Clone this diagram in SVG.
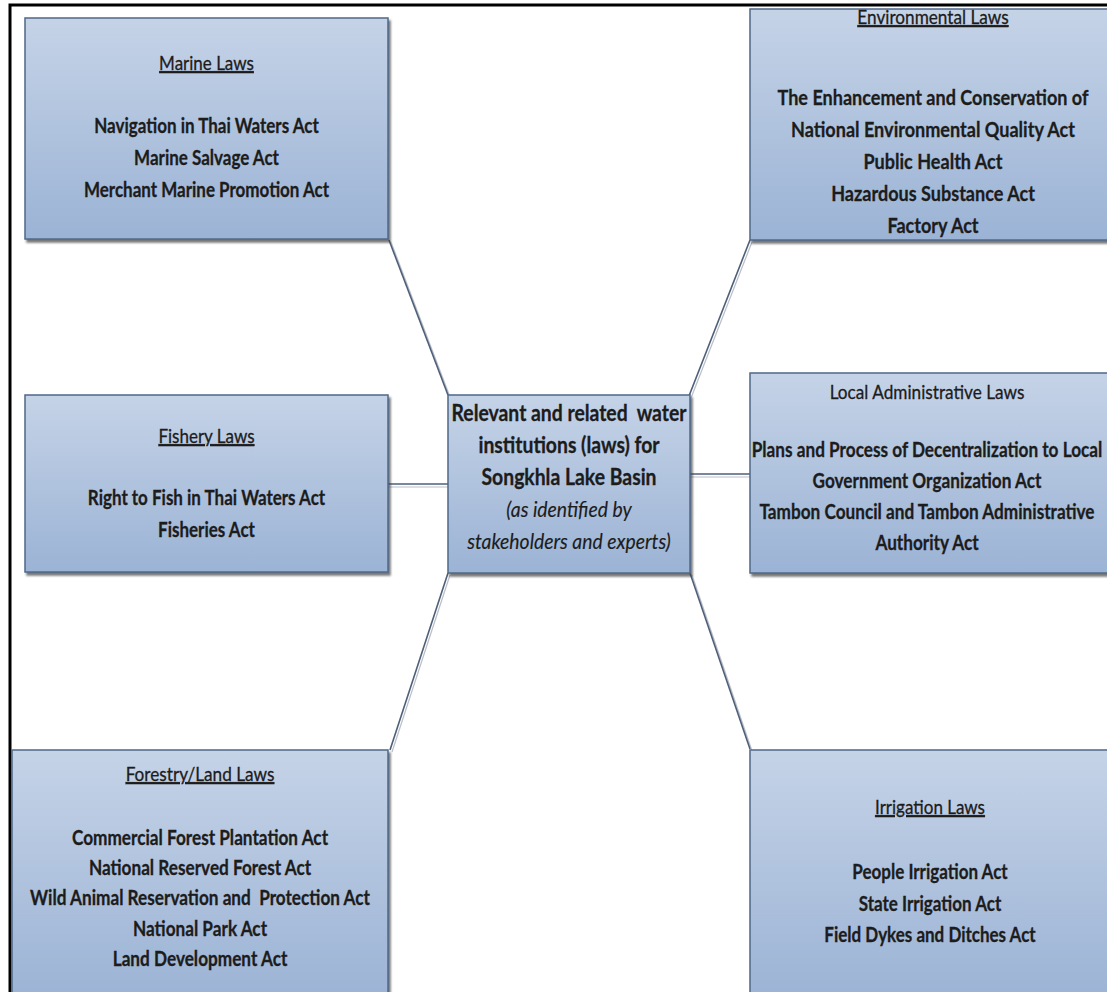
<svg xmlns="http://www.w3.org/2000/svg" width="1107" height="992" viewBox="0 0 1107 992">
  <defs>
    <linearGradient id="boxFill" x1="0" y1="0" x2="0" y2="1">
      <stop offset="0" stop-color="#c5d3e7"/>
      <stop offset="1" stop-color="#9bb3d5"/>
    </linearGradient>
    <filter id="boxShadow" x="-5%" y="-5%" width="110%" height="115%">
      <feDropShadow dx="2" dy="3" stdDeviation="1.2" flood-color="#3c3c3c" flood-opacity="0.7"/>
    </filter>
  </defs>
  <style>
    .box { fill: url(#boxFill); stroke: #4f6888; stroke-width: 1.5; filter: url(#boxShadow); }
    .frame { stroke: #000; stroke-width: 3; fill: none; }
    .link { stroke: #4e5f78; stroke-width: 1.6; fill: none; }
    .link-shade { stroke: #b9bec8; stroke-width: 1.2; fill: none; }
    text { font-family: Lato, "Liberation Sans", sans-serif; fill: #1c1c1c; stroke: #1c1c1c; stroke-width: 0.3; text-anchor: middle; font-size: 20px; }
    .body { font-weight: bold; }
    .title { font-weight: normal; }
    .ul { text-decoration: underline; }
    .env { font-size: 21px; }
    .hub { font-size: 22px; }
    .note { font-style: italic; font-weight: normal; stroke-width: 0.15; }
  </style>

  <rect width="1107" height="992" fill="#ffffff"/>
  <!-- outer frame (top and left edges) -->
  <path class="frame" d="M10 992 V5 H1107"/>

  <!-- connectors -->
  <g id="connectors">
    <line class="link-shade" x1="391" y1="242" x2="450" y2="397"/>
    <line class="link" x1="389" y1="240" x2="448" y2="395"/>
    <line class="link-shade" x1="691" y1="398" x2="752" y2="242"/>
    <line class="link" x1="689" y1="396" x2="750" y2="240"/>
    <line class="link-shade" x1="388" y1="487" x2="448" y2="487"/>
    <line class="link" x1="388" y1="484" x2="448" y2="484"/>
    <line class="link-shade" x1="690" y1="477" x2="750" y2="477"/>
    <line class="link" x1="690" y1="474" x2="750" y2="474"/>
    <line class="link-shade" x1="450" y1="575" x2="392" y2="752"/>
    <line class="link" x1="448" y1="573" x2="390" y2="750"/>
    <line class="link-shade" x1="692" y1="575" x2="752" y2="751"/>
    <line class="link" x1="690" y1="573" x2="750" y2="749"/>
  </g>

  <!-- Marine Laws -->
  <g id="marine">
    <rect class="box" x="25" y="18" width="363" height="221"/>
    <g transform="translate(206.5 0) scale(0.85 1)">
      <text class="title ul" x="0" y="70">Marine Laws</text>
      <text class="body" x="0" y="133">Navigation in Thai Waters Act</text>
      <text class="body" x="0" y="165">Marine Salvage Act</text>
      <text class="body" x="0" y="197">Merchant Marine Promotion Act</text>
    </g>
  </g>

  <!-- Environmental Laws -->
  <g id="environmental">
    <rect class="box" x="750" y="9" width="365" height="231"/>
    <g transform="translate(933 0) scale(0.86 1)">
      <text class="title ul" x="0" y="24">Environmental Laws</text>
      <text class="body env" x="0" y="105">The Enhancement and Conservation of</text>
      <text class="body env" x="0" y="137">National Environmental Quality Act</text>
      <text class="body env" x="0" y="169">Public Health Act</text>
      <text class="body env" x="0" y="201">Hazardous Substance Act</text>
      <text class="body env" x="0" y="233">Factory Act</text>
    </g>
  </g>

  <!-- Fishery Laws -->
  <g id="fishery">
    <rect class="box" x="25" y="395" width="363" height="177"/>
    <g transform="translate(206.5 0) scale(0.85 1)">
      <text class="title ul" x="0" y="443">Fishery Laws</text>
      <text class="body" x="0" y="505">Right to Fish in Thai Waters Act</text>
      <text class="body" x="0" y="537">Fisheries Act</text>
    </g>
  </g>

  <!-- central topic -->
  <g id="hub">
    <rect class="box" x="448" y="395" width="242" height="178"/>
    <g transform="translate(569 0) scale(0.88 1)">
      <text class="body hub" x="0" y="421" xml:space="preserve">Relevant and related  water</text>
      <text class="body hub" x="0" y="453">institutions (laws) for</text>
      <text class="body hub" x="0" y="485">Songkhla Lake Basin</text>
      <text class="hub note" x="0" y="517">(as identified by</text>
      <text class="hub note" x="0" y="549">stakeholders and experts)</text>
    </g>
  </g>

  <!-- Local Administrative Laws -->
  <g id="local">
    <rect class="box" x="750" y="373" width="365" height="200"/>
    <g transform="translate(927 0) scale(0.86 1)">
      <text class="title" x="0" y="399">Local Administrative Laws</text>
      <text class="body" x="0" y="457">Plans and Process of Decentralization to Local</text>
      <text class="body" x="0" y="488">Government Organization Act</text>
      <text class="body" x="0" y="519">Tambon Council and Tambon Administrative</text>
      <text class="body" x="0" y="550">Authority Act</text>
    </g>
  </g>

  <!-- Forestry/Land Laws -->
  <g id="forestry">
    <rect class="box" x="12" y="750" width="376" height="250"/>
    <g transform="translate(200 0) scale(0.86 1)">
      <text class="title ul" x="0" y="781">Forestry/Land Laws</text>
      <text class="body" x="0" y="845">Commercial Forest Plantation Act</text>
      <text class="body" x="0" y="875">National Reserved Forest Act</text>
      <text class="body" x="0" y="905" xml:space="preserve">Wild Animal Reservation and  Protection Act</text>
      <text class="body" x="0" y="936">National Park Act</text>
      <text class="body" x="0" y="966">Land Development Act</text>
    </g>
  </g>

  <!-- Irrigation Laws -->
  <g id="irrigation">
    <rect class="box" x="750" y="750" width="365" height="250"/>
    <g transform="translate(930 0) scale(0.85 1)">
      <text class="title ul" x="0" y="814">Irrigation Laws</text>
      <text class="body" x="0" y="879">People Irrigation Act</text>
      <text class="body" x="0" y="911">State Irrigation Act</text>
      <text class="body" x="0" y="942">Field Dykes and Ditches Act</text>
    </g>
  </g>
</svg>
